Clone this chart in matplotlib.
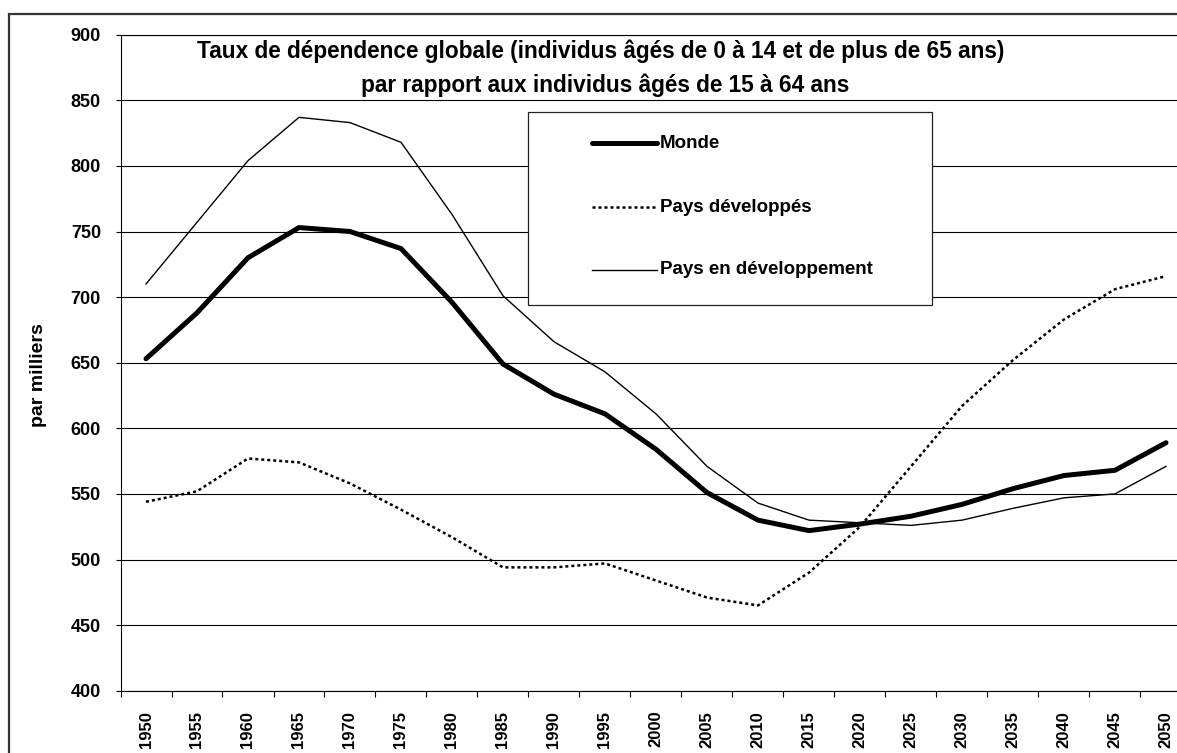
import numpy as np
import matplotlib
matplotlib.use("Agg")
import matplotlib.pyplot as plt
from matplotlib import font_manager
from matplotlib.lines import Line2D
from matplotlib.patches import Rectangle

# categories (années) et séries
years = ['1950', '1955', '1960', '1965', '1970', '1975', '1980', '1985', '1990', '1995', '2000',
         '2005', '2010', '2015', '2020', '2025', '2030', '2035', '2040', '2045', '2050']
monde = [653, 688, 730, 753, 750, 737, 696, 649, 626, 611, 584,
         551, 530, 522, 527, 533, 542, 554, 564, 568, 589]
pays_dev = [544, 552, 577, 574, 558, 538, 517, 494, 494, 497, 484,
            471, 465, 490, 525, 571, 617, 652, 683, 706, 716]
pays_en_dev = [710, 757, 804, 837, 833, 818, 763, 701, 666, 643, 611,
               571, 543, 530, 528, 526, 530, 539, 547, 550, 571]

labels = ['Monde', 'Pays développés', 'Pays en développement']

# police étroite si dispo
names = {f.name for f in font_manager.fontManager.ttflist}
narrow = 'Liberation Sans Narrow' in names
fam = ['Liberation Sans Narrow', 'Liberation Sans'] if narrow else ['Liberation Sans']
plt.rcParams['font.family'] = fam
plt.rcParams['font.weight'] = 'bold'
big = 14.5 if narrow else 13
W, H = 1177, 753

fig = plt.figure(figsize=(W / 100, H / 100), dpi=100)
ax = fig.add_axes([120.5 / W, 62.3 / H, 1071 / W, 656 / H])

x = np.arange(len(years))
styles = [dict(color='black', lw=3.6, solid_capstyle='round'),
          dict(color='black', lw=1.8, linestyle=(0, (1.2, 1.2))),
          dict(color='black', lw=1.0)]
for vals, st in zip([monde, pays_dev, pays_en_dev], styles):
    ax.plot(x, vals, zorder=3, **st)

ax.set_xlim(-0.5, len(years) - 0.5)
ax.set_ylim(400, 900)
ax.set_yticks(np.arange(400, 901, 50))
ax.yaxis.grid(True, color='black', lw=0.8)
ax.set_axisbelow(True)

# ticks entre les catégories, libellés au centre
ax.set_xticks(np.arange(-0.5, len(years), 1))
ax.set_xticklabels([])
ax.set_xticks(x, minor=True)
ax.set_xticklabels(years, minor=True, rotation=90, fontsize=12, fontweight='bold', va='top')
ax.tick_params(axis='x', which='major', length=4.3, width=0.8, direction='out')
ax.tick_params(axis='x', which='minor', length=0, pad=14.5)
ax.tick_params(axis='y', length=3.6, width=0.8, pad=10.5, labelsize=big)
for t in ax.get_yticklabels():
    t.set_fontweight('bold')

ax.spines['right'].set_visible(False)
for s in ['left', 'bottom', 'top']:
    ax.spines[s].set_linewidth(0.8)

ax.set_ylabel('par milliers', fontsize=14, fontweight='bold')
ax.yaxis.set_label_coords((47 - 120.5) / 1071, (690.7 - 375) / 656)

# titre
tsize = 15 if narrow else 16.3
fig.text(601 / W, 1 - 51 / H, 'Taux de dépendence globale (individus âgés de 0 à 14 et de plus de 65 ans)',
         ha='center', va='center', fontsize=tsize, fontweight='bold')
fig.text(605 / W, 1 - 85 / H, 'par rapport aux individus âgés de 15 à 64 ans',
         ha='center', va='center', fontsize=tsize, fontweight='bold')

# légende dessinée à la main
fig.add_artist(Rectangle((528 / W, 1 - 305 / H), (932 - 528) / W, (305 - 112) / H,
                         transform=fig.transFigure, facecolor='white', edgecolor='#222222',
                         lw=0.9, zorder=5))
rows = [143, 207, 270]
for lab, st, ry in zip(labels, styles, rows):
    fig.add_artist(Line2D([592 / W, 657 / W], [1 - ry / H, 1 - ry / H],
                          transform=fig.transFigure, zorder=6, **st))
    fig.text(660 / W, 1 - ry / H, lab, ha='left', va='center', fontsize=12.5 if narrow else 13.5,
             fontweight='bold', zorder=6)

# cadre extérieur
fig.add_artist(Rectangle((9 / W, -0.5), 2, 1 - 14 / H + 0.5, transform=fig.transFigure,
                         fill=False, edgecolor='#333333', lw=1.6))

fig.savefig('out.png', dpi=100)
